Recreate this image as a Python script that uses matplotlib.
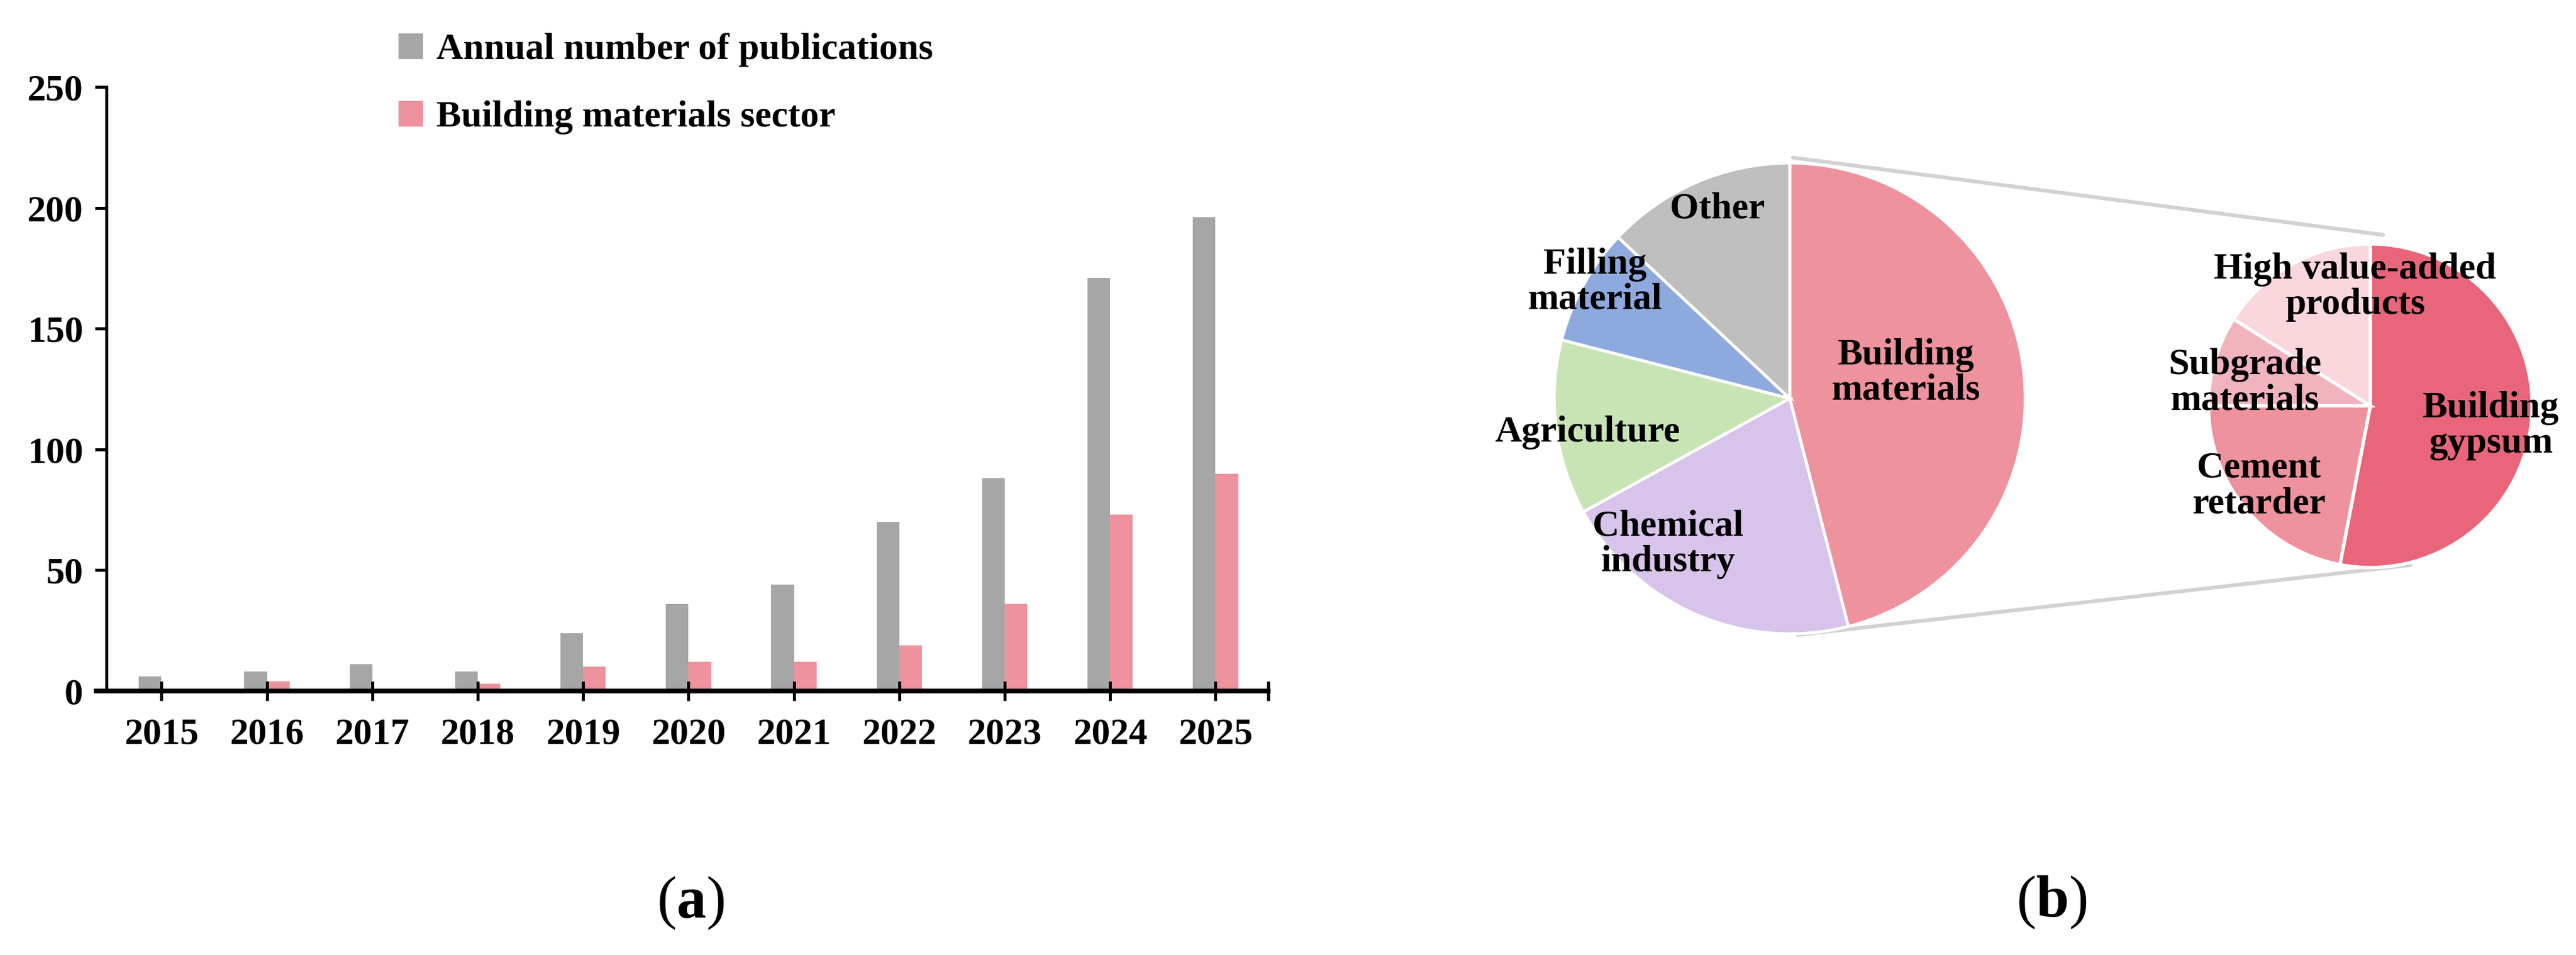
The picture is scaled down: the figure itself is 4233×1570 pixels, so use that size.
import matplotlib
matplotlib.use("Agg")
import matplotlib.pyplot as plt
import numpy as np
from matplotlib.patches import Patch, ConnectionPatch

plt.rcParams["font.family"] = ["Liberation Serif", "DejaVu Serif"]
plt.rcParams["font.weight"] = "bold"
plt.rcParams["mathtext.fontset"] = "custom"
plt.rcParams["mathtext.rm"] = "Liberation Serif"
plt.rcParams["mathtext.bf"] = "Liberation Serif:bold"

# ---- data -----------------------------------------------------------------
years = ["2015", "2016", "2017", "2018", "2019", "2020",
         "2021", "2022", "2023", "2024", "2025"]
annual_pubs = [6, 8, 11, 8, 24, 36, 44, 70, 88, 171, 196]
building_sector = [0, 4, 0, 3, 10, 12, 12, 19, 36, 73, 90]
y_ticks = [0, 50, 100, 150, 200, 250]

fields = ["Building\nmaterials", "Chemical\nindustry", "Agriculture",
          "Filling\nmaterial", "Other"]
field_share = [46, 21, 12, 8, 13]

uses = ["Building\ngypsum", "Cement\nretarder", "Subgrade\nmaterials",
        "High value-added\nproducts"]
use_share = [53, 22, 9, 16]

# ---- styles ---------------------------------------------------------------
GRAY = "#A6A6A6"
PINK = "#EE929D"
field_colors = ["#EE929D", "#D8C3EB", "#C7E4B4", "#8EA9DE", "#BFBFBF"]
use_colors = ["#E8657A", "#EE929D", "#F1B3BD", "#F9D7DC"]
FS = 44

W, H = 4233, 1570
fig = plt.figure(figsize=(W / 100, H / 100), dpi=100)

# ---- (a) bar chart --------------------------------------------------------
ax = fig.add_axes([158 / W, 1 - 1136 / H, (2084 - 158) / W, (1136 - 143) / H])
x = np.arange(len(years))
bw = 0.215
ax.bar(x - bw / 2, annual_pubs, width=bw, color=GRAY, label="Annual number of publications")
ax.bar(x + bw / 2, building_sector, width=bw, color=PINK, label="Building materials sector")

ax.set_xlim(-0.62, 10.5)
ax.set_ylim(0, 250)
ax.set_yticks(y_ticks)
ax.set_xticks(x)
ax.set_xticklabels(years)
ax.set_xticks([10.5], minor=True)
for s in ["top", "right"]:
    ax.spines[s].set_visible(False)
ax.spines["left"].set_position(("data", -0.52))
ax.spines["left"].set_linewidth(3.6)
ax.spines["bottom"].set_linewidth(5.5)
ax.tick_params(axis="y", direction="out", length=14, width=3.6, pad=14, labelsize=FS)
ax.tick_params(axis="x", which="both", direction="inout", length=23, width=3.6,
               pad=20, labelsize=FS)
for lab in ax.get_xticklabels() + ax.get_yticklabels():
    lab.set_fontweight("bold")

handles = [Patch(color=GRAY), Patch(color=PINK)]
ax.legend(handles, ["Annual number of publications", "Building materials sector"],
          loc="upper left", bbox_to_anchor=(655 / W, 1 - 54 / H),
          bbox_transform=fig.transFigure, frameon=False, fontsize=FS,
          borderpad=0, borderaxespad=0, handlelength=0.64, handleheight=0.66,
          handletextpad=0.38, labelspacing=0.9)

fig.text(1135 / W, 1 - 1485 / H, r"($\mathbf{a}$)", ha="center", va="center",
         fontsize=70, fontweight="normal")

# ---- (b) pie of pie -------------------------------------------------------
def pie_axes(cx, cy, r):
    half = 1.1 * r
    return fig.add_axes([(cx - half) / W, 1 - (cy + half) / H, 2 * half / W, 2 * half / H])

ax1 = pie_axes(2941, 655, 387)
ax1.pie(field_share, colors=field_colors, startangle=90, counterclock=False,
        wedgeprops=dict(edgecolor="white", linewidth=3.5))
ax1.set_xlim(-1.1, 1.1)
ax1.set_ylim(-1.1, 1.1)
ax1.set_aspect("equal")
field_label_pos = [(0.494, 0.109), (-0.517, -0.620), (-0.858, -0.145),
                   (-0.827, 0.494), (-0.307, 0.806)]
for name, (lx, ly) in zip(fields, field_label_pos):
    ax1.text(lx, ly, name, ha="center", va="center", fontsize=FS,
             fontweight="bold", linespacing=1.05)

ax2 = pie_axes(3895, 667, 266)
ax2.pie(use_share, colors=use_colors, startangle=90, counterclock=False,
        wedgeprops=dict(edgecolor="white", linewidth=4))
ax2.set_xlim(-1.1, 1.1)
ax2.set_ylim(-1.1, 1.1)
ax2.set_aspect("equal")
use_label_pos = [(0.744, -0.124), (-0.688, -0.496), (-0.774, 0.143), (-0.094, 0.733)]
for name, (lx, ly) in zip(uses, use_label_pos):
    ax2.text(lx, ly, name, ha="center", va="center", fontsize=FS,
             fontweight="bold", linespacing=1.05, clip_on=False)

# connector lines between the building-materials slice and the breakdown pie
for p1, p2 in [((0.013, 1.023), (0.079, 1.056)), ((0.034, -1.005), (0.248, -0.985))]:
    con = ConnectionPatch(xyA=p1, coordsA=ax1.transData, xyB=p2, coordsB=ax2.transData,
                          color="#D2D2D2", linewidth=4.5, zorder=-1)
    fig.add_artist(con)

fig.text(3371 / W, 1 - 1484 / H, r"($\mathbf{b}$)", ha="center", va="center",
         fontsize=70, fontweight="normal")

fig.savefig("out.png", dpi=100, facecolor="white")
